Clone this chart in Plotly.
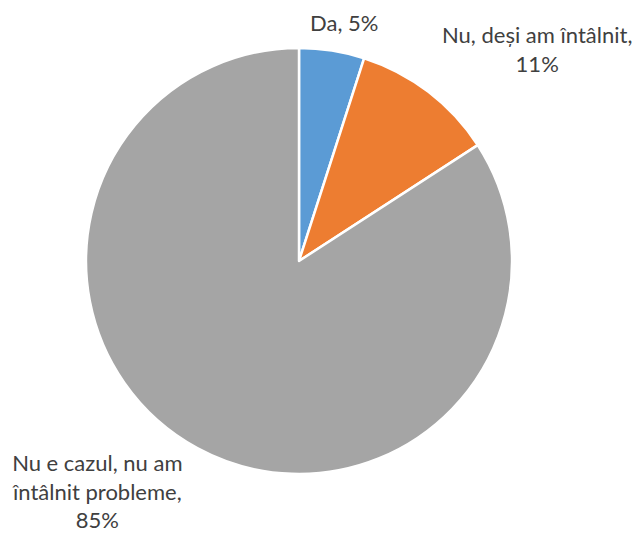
import plotly.graph_objects as go

labels = ["Da", "Nu, deși am întâlnit,", "Nu e cazul, nu am<br>întâlnit probleme,"]
values = [5, 11, 85]
colors = ["#5B9BD5", "#ED7D31", "#A5A5A5"]

W, H = 636, 533
cx, cy, r = 299, 261, 213

fig = go.Figure(
    go.Pie(
        labels=labels,
        values=values,
        sort=False,
        direction="clockwise",
        rotation=0,
        marker=dict(colors=colors, line=dict(color="white", width=2.5)),
        textinfo="none",
        hoverinfo="label+value",
        showlegend=False,
        domain=dict(
            x=[(cx - r) / W, (cx + r) / W],
            y=[(H - cy - r) / H, (H - cy + r) / H],
        ),
    )
)

# label positions (pixel coordinates from top-left)
label_pos = [(344, 22), (537, 49), (97, 491)]
label_text = [
    "Da, %d%%" % values[0],
    "%s<br>%d%%" % (labels[1], values[1]),
    "%s<br>%d%%" % (labels[2], values[2]),
]
for (px, py), txt in zip(label_pos, label_text):
    fig.add_annotation(
        x=px / W, y=1 - py / H, xref="paper", yref="paper",
        text=txt, showarrow=False, align="center",
        xanchor="center", yanchor="middle",
        font=dict(family="Lato", size=22, color="#404040"),
    )

fig.update_layout(
    width=W, height=H,
    margin=dict(l=0, r=0, t=0, b=0),
    paper_bgcolor="white", plot_bgcolor="white",
)
fig.write_html("out.html")
